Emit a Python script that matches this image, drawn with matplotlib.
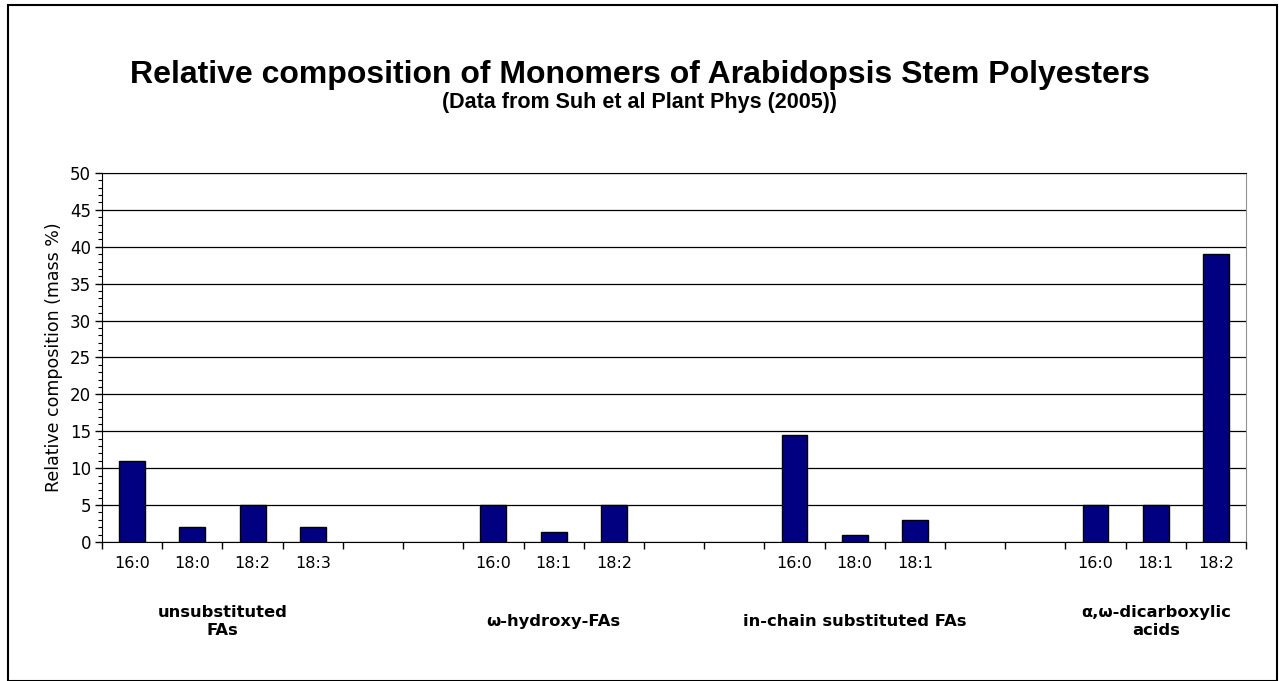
import numpy as np
import matplotlib
matplotlib.use("Agg")
import matplotlib.pyplot as plt
from matplotlib.patches import Rectangle

# chart data (blank slots are gaps between groups)
cats = ['16:0', '18:0', '18:2', '18:3', '', '',
        '16:0', '18:1', '18:2', '', '',
        '16:0', '18:0', '18:1', '', '',
        '16:0', '18:1', '18:2']
vals = [11.0, 2.0, 5.0, 2.0, None, None,
        5.0, 1.3, 5.0, None, None,
        14.5, 1.0, 3.0, None, None,
        5.0, 5.0, 39.0]
groups = ['unsubstituted\nFAs', 'ω-hydroxy-FAs',
          'in-chain substituted FAs', 'α,ω-dicarboxylic\nacids']
group_span = [(0, 3), (6, 8), (11, 13), (16, 18)]

fig = plt.figure(figsize=(12.79, 6.81), dpi=100)
ax = fig.add_axes([0.0798, 0.2041, 0.8944, 0.5419])

x = np.arange(len(cats))
bx = [i for i, v in zip(x, vals) if v is not None]
bh = [v for v in vals if v is not None]
ax.bar(bx, bh, width=0.43, color='#000080', edgecolor='black', linewidth=1, zorder=3)

ax.set_xlim(-0.5, len(cats) - 0.5)
ax.set_ylim(0, 50)
ax.set_yticks(np.arange(0, 51, 5))
ax.set_yticks(np.arange(0, 51, 1), minor=True)
ax.yaxis.grid(True, which='major', color='black', linewidth=0.9, zorder=0)
ax.tick_params(axis='y', which='major', length=5, width=1, labelsize=12, pad=3)
ax.tick_params(axis='y', which='minor', length=3, width=0.8)

# tick marks between categories, labels at the centres
ax.set_xticks(np.arange(-0.5, len(cats), 1))
ax.set_xticklabels([])
ax.set_xticks(x, minor=True)
ax.set_xticklabels(cats, minor=True, fontsize=11.5)
ax.tick_params(axis='x', which='major', length=5, width=1)
ax.tick_params(axis='x', which='minor', length=0, pad=10)

for s in ['left', 'bottom', 'top']:
    ax.spines[s].set_color('black')
ax.spines['right'].set_color('#909090')

ax.set_ylabel('Relative composition (mass %)', fontsize=12.5, labelpad=5)

trans = ax.get_xaxis_transform()
for name, (a, b) in zip(groups, group_span):
    ax.text((a + b) / 2, -0.215, name, transform=trans, ha='center', va='center',
            fontsize=11.8, fontweight='bold', linespacing=1.25)

fig.text(0.5, 0.89, 'Relative composition of Monomers of Arabidopsis Stem Polyesters',
         ha='center', va='center', fontsize=23, fontweight='bold', family='Liberation Sans')
fig.text(0.5, 0.849, '(Data from Suh et al Plant Phys (2005))',
         ha='center', va='center', fontsize=15.5, fontweight='bold', family='Liberation Sans')

fig.patches.append(Rectangle((8 / 1279, 0.0), 1269 / 1279, 1 - 5 / 681,
                             transform=fig.transFigure, fill=False,
                             edgecolor='black', linewidth=1.5))

fig.savefig('out.png', dpi=100)
